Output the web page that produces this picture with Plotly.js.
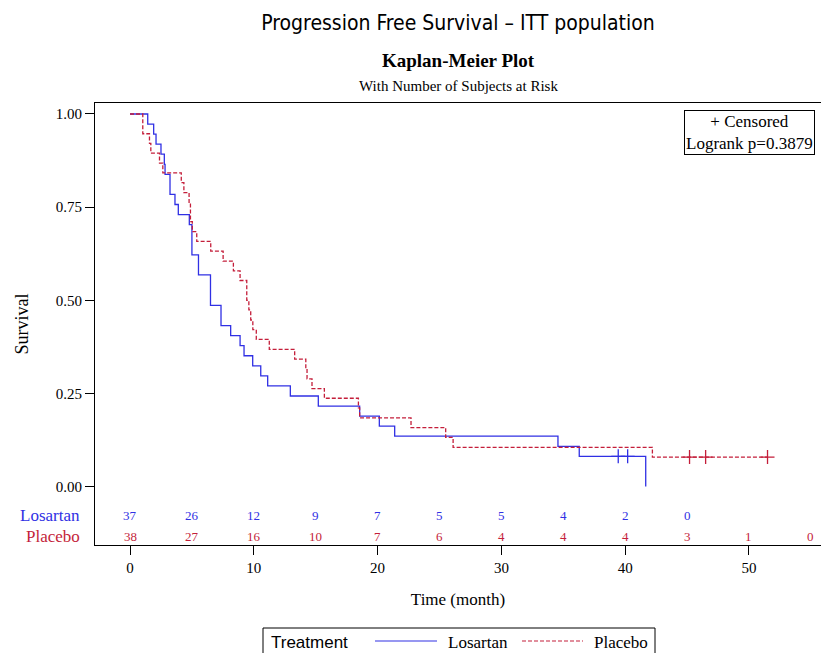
<!DOCTYPE html>
<html>
<head>
<meta charset="utf-8">
<script src="https://cdn.plot.ly/plotly-3.0.1.min.js"></script>
<style>html,body{margin:0;padding:0;background:#fff;}#chart{width:821px;height:653px;}</style>
</head>
<body>
<div id="chart"></div>
<script>
// ---- Data ----
const losTime = [0, 1.43, 1.91, 2.10, 2.50, 2.77, 2.83, 3.23, 3.63, 3.90, 4.79, 5.00, 5.53, 6.50, 7.35, 8.13, 8.89, 9.21, 9.91, 10.56, 11.12, 12.95, 15.21, 18.55, 20.14, 21.38, 34.57, 36.29, 41.66];
const losSurv = [1, 0.973, 0.946, 0.919, 0.892, 0.865, 0.838, 0.784, 0.757, 0.730, 0.703, 0.622, 0.568, 0.486, 0.432, 0.405, 0.378, 0.351, 0.324, 0.297, 0.270, 0.243, 0.216, 0.189, 0.162, 0.135, 0.108, 0.081, 0];
const losCensTime = [39.44, 40.2];
const losCensSurv = [0.081, 0.081];

const plaTime = [0, 1.03, 1.57, 1.68, 2.38, 2.65, 4.14, 4.35, 4.77, 4.88, 5.03, 5.39, 6.52, 7.52, 8.35, 8.89, 9.43, 9.60, 9.75, 9.92, 10.2, 11.25, 13.3, 14.2, 14.3, 14.7, 15.7, 18.45, 18.55, 22.7, 25.5, 26.1, 42.2, 51.5];
const plaSurv = [1, 0.947, 0.921, 0.895, 0.868, 0.842, 0.816, 0.789, 0.763, 0.711, 0.684, 0.658, 0.632, 0.605, 0.579, 0.553, 0.500, 0.474, 0.447, 0.421, 0.395, 0.368, 0.342, 0.316, 0.289, 0.263, 0.237, 0.211, 0.184, 0.158, 0.132, 0.105, 0.079, 0.079];
const plaCensTime = [45.2, 46.5, 51.5];
const plaCensSurv = [0.079, 0.079, 0.079];

const riskTimes = [0, 5, 10, 15, 20, 25, 30, 35, 40, 45, 50, 55];
const losRisk = [37, 26, 12, 9, 7, 5, 5, 4, 2, 0];
const plaRisk = [38, 27, 16, 10, 7, 6, 4, 4, 4, 3, 1, 0];

const xTicks = [0, 10, 20, 30, 40, 50];
const yTicks = [0, 0.25, 0.5, 0.75, 1.0];
const yTickText = ["0.00", "0.25", "0.50", "0.75", "1.00"];

const groupNames = ["Losartan", "Placebo"];
const logrankText = "Logrank p=0.3879";

// ---- Styles ----
const BLUE = "#3030E4";
const RED = "#C41E3A";
const SERIF = "Liberation Serif, Times New Roman, serif";
const SANS = "Liberation Sans, Arial, sans-serif";
const NARROW = "Liberation Sans Narrow, DejaVu Sans Condensed, Arial Narrow, sans-serif";

const traces = [
  {x: losTime, y: losSurv, mode: "lines", line: {shape: "hv", color: BLUE, width: 1.3}, name: groupNames[0], showlegend: false, hoverinfo: "skip"},
  {x: plaTime, y: plaSurv, mode: "lines", line: {shape: "hv", color: RED, width: 1.3, dash: "4px,2px"}, name: groupNames[1], showlegend: false, hoverinfo: "skip"},
  {x: losCensTime, y: losCensSurv, mode: "markers", marker: {symbol: "cross-thin-open", size: 10, line: {color: BLUE, width: 1.3}, color: BLUE}, showlegend: false, hoverinfo: "skip"},
  {x: plaCensTime, y: plaCensSurv, mode: "markers", marker: {symbol: "cross-thin-open", size: 10, line: {color: RED, width: 1.3}, color: RED}, showlegend: false, hoverinfo: "skip"}
];

const annotations = [];
// Subtitles
annotations.push({xref: "paper", yref: "paper", x: 0.5, y: (545 - 61) / 442, text: "<b>Kaplan-Meier Plot</b>", showarrow: false, font: {family: SERIF, size: 19, color: "#000"}, xanchor: "center", yanchor: "middle"});
annotations.push({xref: "paper", yref: "paper", x: 0.5, y: (545 - 86) / 442, text: "With Number of Subjects at Risk", showarrow: false, font: {family: SERIF, size: 15, color: "#000"}, xanchor: "center", yanchor: "middle"});
// Censored / logrank box
annotations.push({xref: "paper", yref: "paper", x: 0.9917, y: 0.984, xanchor: "right", yanchor: "top", showarrow: false,
  text: "+ Censored<br>" + logrankText, align: "center", font: {family: SERIF, size: 17, color: "#000"},
  bordercolor: "#000", borderwidth: 1, borderpad: 1, bgcolor: "#fff"});
// At-risk row labels
const riskY = [-0.0765, -0.133];
annotations.push({xref: "paper", yref: "y", x: -0.018, y: riskY[0], xanchor: "right", yanchor: "middle", showarrow: false, text: groupNames[0], font: {family: SERIF, size: 17, color: BLUE}});
annotations.push({xref: "paper", yref: "y", x: -0.018, y: riskY[1], xanchor: "right", yanchor: "middle", showarrow: false, text: groupNames[1], font: {family: SERIF, size: 17, color: RED}});
losRisk.forEach((v, i) => annotations.push({x: riskTimes[i], y: riskY[0], text: String(v), showarrow: false, xanchor: "center", yanchor: "middle", font: {family: SERIF, size: 13, color: BLUE}}));
plaRisk.forEach((v, i) => annotations.push({x: riskTimes[i], y: riskY[1], text: String(v), showarrow: false, xanchor: "center", yanchor: "middle", font: {family: SERIF, size: 13, color: RED}}));

// Legend (custom, bottom)
const px = v => (v - 95) / 726;
const py = v => (545 - v) / 442;
const legY = py(642);
annotations.push({xref: "paper", yref: "paper", x: px(269), y: legY, xanchor: "left", yanchor: "middle", showarrow: false, text: "Treatment", font: {family: SANS, size: 17, color: "#000"}});
annotations.push({xref: "paper", yref: "paper", x: px(446), y: legY, xanchor: "left", yanchor: "middle", showarrow: false, text: groupNames[0], font: {family: SERIF, size: 17, color: "#000"}});
annotations.push({xref: "paper", yref: "paper", x: px(592), y: legY, xanchor: "left", yanchor: "middle", showarrow: false, text: groupNames[1], font: {family: SERIF, size: 17, color: "#000"}});

const shapes = [
  {type: "rect", xref: "paper", yref: "paper", x0: px(263), x1: px(655), y0: py(628), y1: py(670), line: {color: "#000", width: 1}},
  {type: "line", xref: "paper", yref: "paper", x0: px(375), x1: px(437), y0: py(641), y1: py(641), line: {color: BLUE, width: 1.2}},
  {type: "line", xref: "paper", yref: "paper", x0: px(522), x1: px(583), y0: py(641), y1: py(641), line: {color: RED, width: 1.2, dash: "4px,2px"}}
];

const layout = {
  width: 821, height: 653,
  margin: {l: 95, r: 0, t: 103, b: 108},
  paper_bgcolor: "#fff", plot_bgcolor: "#fff",
  title: {text: "Progression Free Survival – ITT population", font: {family: NARROW, size: 21, color: "#000"}, x: 0.5, xanchor: "center", xref: "paper", y: 1 - 23 / 653, yanchor: "middle", yref: "container"},
  xaxis: {range: [-2.83, 55.82], tickvals: xTicks, ticks: "outside", ticklen: 9, tickcolor: "#000", tickwidth: 1,
    showline: true, linecolor: "#000", linewidth: 1, mirror: true, showgrid: false, zeroline: false,
    tickfont: {family: SERIF, size: 15, color: "#000"},
    title: {text: "Time (month)", font: {family: SERIF, size: 17, color: "#000"}, standoff: 18}},
  yaxis: {range: [-0.157, 1.0295], tickvals: yTicks, ticktext: yTickText, ticks: "outside", ticklen: 9, tickcolor: "#000", tickwidth: 1,
    showline: true, linecolor: "#000", linewidth: 1, mirror: true, showgrid: false, zeroline: false,
    tickfont: {family: SERIF, size: 15, color: "#000"},
    title: {text: "Survival", font: {family: SERIF, size: 18, color: "#000"}, standoff: 22}},
  annotations: annotations,
  shapes: shapes,
  showlegend: false
};

Plotly.newPlot("chart", traces, layout, {staticPlot: true});
</script>
</body>
</html>
